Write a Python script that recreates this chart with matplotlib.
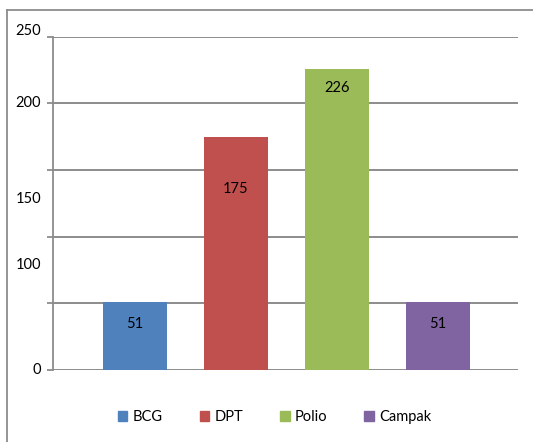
import matplotlib.pyplot as plt
from matplotlib.lines import Line2D
from matplotlib.patches import Patch

kategori = ['BCG', 'DPT', 'Polio', 'Campak']
nilai = [51, 175, 226, 51]
warna = ['#4F81BD', '#C0504D', '#9BBB59', '#8064A2']
grid_y = [0, 50, 100, 150, 200, 250]
label_pos = [0, 79, 128, 200.5, 254]
label_teks = ['0', '100', '150', '200', '250']
# label di dalam batang, jarak dari puncak (points)
offset_label = [-16, -38, -14, -16]

plt.rcParams['font.family'] = ['Lato', 'DejaVu Sans']
fs = 10.5

fig = plt.figure(figsize=(5.33, 4.42), dpi=100)
ax = fig.add_axes([0.0994, 0.1629, 0.8725, 0.7545])

x = range(len(kategori))
bars = ax.bar(x, nilai, width=0.63, color=warna, zorder=3)

for b, v, off in zip(bars, nilai, offset_label):
    ax.annotate(str(v), (b.get_x() + b.get_width() / 2, b.get_height()),
                xytext=(0, off), textcoords='offset points',
                ha='center', va='center', fontsize=fs, color='black',
                zorder=4)

ax.set_xticks([])

# garis grid + tick marks
ax.set_yticks(grid_y)
ax.set_yticklabels([])
ax.tick_params(axis='y', which='major', length=4, width=1.3, color='#8c8c8c',
               direction='out')
ax.yaxis.grid(True, color='#8c8c8c', linewidth=1.4, zorder=0)

ax.set_xlim(-0.81, 3.79)
ax.set_ylim(0, 250)

# label sumbu y (posisinya mengikuti gambar asli)
for pos, t in zip(label_pos, label_teks):
    ax.text(-0.026, pos, t, transform=ax.get_yaxis_transform(),
            ha='right', va='center', fontsize=fs, clip_on=False)

for s in ['top', 'right', 'bottom']:
    ax.spines[s].set_visible(False)
ax.spines['left'].set_color('#8c8c8c')
ax.spines['left'].set_linewidth(1.3)

# bingkai luar
fig.add_artist(Line2D([0.0131, 0.0131], [0, 0.977], color='#8c8c8c', lw=1.3,
                      transform=fig.transFigure))
fig.add_artist(Line2D([0.0131, 1.0], [0.977, 0.977], color='#8c8c8c', lw=1.3,
                      transform=fig.transFigure))

handles = [Patch(color=c, label=k) for c, k in zip(warna, kategori)]
fig.legend(handles=handles, loc='center', bbox_to_anchor=(0.515, 0.056),
           ncol=4, frameon=False, fontsize=fs, handlelength=0.65,
           handleheight=0.65, handletextpad=0.35, columnspacing=2.55)

fig.savefig('out.png', dpi=100)
